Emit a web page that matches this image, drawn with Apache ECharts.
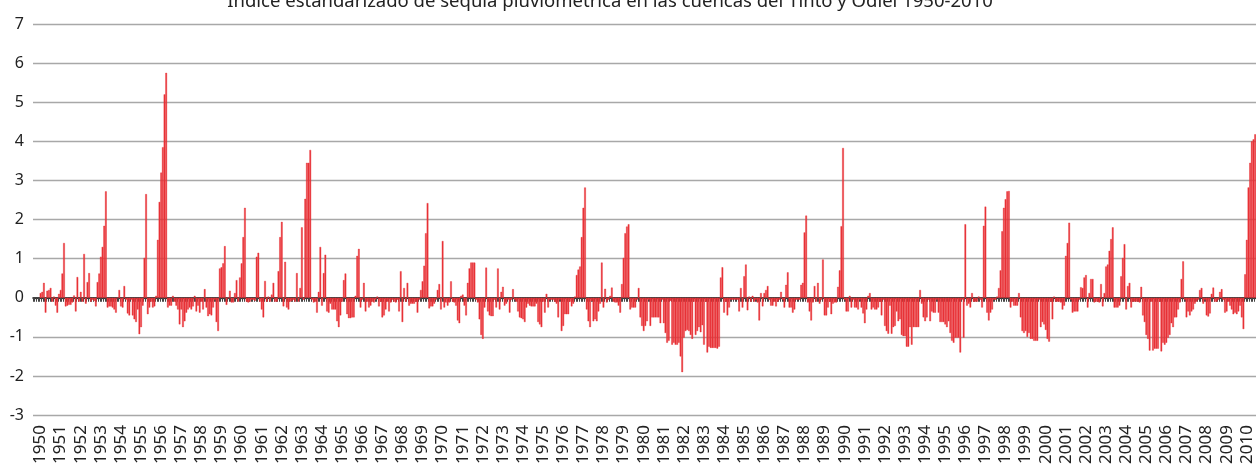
<!DOCTYPE html>
<html>
<head>
<meta charset="utf-8">
<script src="https://cdn.jsdelivr.net/npm/echarts@6/dist/echarts.min.js"></script>
<style>
  html, body { margin: 0; padding: 0; background: #fff; }
  #chart { width: 1256px; height: 467px; }
</style>
</head>
<body>
<div id="chart"></div>
<script>
// indice mensual de sequia, enero 1950 - junio 2010
const firstYear = 1950;
const leadMonths = 4; // huecos vacios antes de 1950 (como en el original)

const spi1950s = [
  0.12, 0.15, 0.38, -0.38, 0.18, 0.2, 0.25, -0.1, 0.03, -0.2, -0.38, 0.1,
  0.2, 0.62, 1.4, -0.22, -0.2, -0.18, -0.18, -0.12, 0.06, -0.35, 0.53, -0.1,
  0.15, -0.1, 1.12, -0.15, 0.4, 0.63, -0.1, -0.05, -0.08, -0.22, 0.4, 0.62,
  1.05, 1.3, 1.84, 2.72, -0.25, -0.22, -0.22, -0.25, -0.3, -0.38, 0.0, 0.2,
  -0.22, -0.25, 0.3, -0.05, -0.4, -0.45, -0.05, -0.45, -0.55, -0.62, -0.3, -0.93,
  -0.75, -0.2, 1.02, 2.65, -0.42, -0.25, -0.1, -0.25, -0.22, 0.05, 1.48, 2.45,
  3.2, 3.85, 5.2, 5.75, -0.25, -0.2, -0.2, 0.05, -0.1, -0.2, -0.3, -0.68,
  -0.3, -0.75, -0.6, -0.38, -0.3, -0.25, -0.3, -0.22, 0.05, -0.35, -0.2, -0.38,
  -0.1, -0.3, 0.22, -0.25, -0.47, -0.42, -0.45, -0.25, -0.05, -0.62, -0.85, 0.75,
  0.78, 0.88, 1.32, -0.18, 0.0, 0.18, -0.12, -0.12, 0.12, 0.45, -0.1, 0.52
];
const spi1960s = [
  0.88, 1.55, 2.3, -0.1, -0.12, -0.1, -0.05, -0.05, -0.08, 1.05, 1.15, -0.1,
  -0.3, -0.5, 0.43, -0.1, 0.03, -0.1, 0.08, 0.38, -0.1, -0.1, 0.68, 1.55,
  1.94, -0.22, 0.92, -0.25, -0.3, -0.1, -0.08, -0.05, -0.1, 0.63, -0.1, 0.25,
  1.8, -0.05, 2.53, 3.45, 3.45, 3.78, -0.05, -0.12, -0.1, -0.38, 0.15, 1.3,
  -0.2, 0.63, 1.1, -0.35, -0.38, -0.15, -0.3, -0.3, -0.3, -0.6, -0.75, -0.45,
  -0.1, 0.45, 0.62, -0.42, -0.52, -0.52, -0.5, -0.5, 0.05, 1.07, 1.25, -0.25,
  -0.05, 0.38, -0.35, -0.1, -0.25, -0.2, -0.1, -0.12, -0.05, 0.03, -0.22, -0.1,
  -0.5, -0.45, -0.3, -0.1, -0.35, -0.12, -0.05, -0.1, -0.12, -0.05, -0.35, 0.68,
  -0.62, 0.25, -0.1, 0.38, -0.2, -0.15, -0.15, -0.15, -0.1, -0.38, -0.05, 0.2,
  0.42, 0.82, 1.65, 2.42, -0.27, -0.22, -0.22, -0.15, -0.05, 0.2, 0.35, -0.3
];
const spi1970s = [
  1.45, -0.25, -0.12, -0.2, -0.12, 0.42, -0.1, -0.12, -0.2, -0.58, -0.65, 0.05,
  0.08, -0.2, -0.45, 0.38, 0.75, 0.9, 0.9, 0.9, -0.05, -0.12, -0.55, -0.95,
  -1.05, -0.25, 0.77, -0.35, -0.45, -0.47, -0.47, -0.05, -0.25, 0.75, -0.3, 0.15,
  0.28, -0.2, -0.15, -0.05, -0.38, -0.05, 0.22, -0.05, -0.1, -0.35, -0.5, -0.52,
  -0.55, -0.62, -0.25, -0.15, -0.2, -0.22, -0.22, -0.22, -0.15, -0.62, -0.68, -0.75,
  -0.1, -0.38, 0.1, -0.25, -0.05, -0.05, -0.05, -0.1, -0.15, -0.5, -0.05, -0.85,
  -0.72, -0.42, -0.42, -0.42, -0.1, -0.22, -0.15, 0.03, 0.58, 0.72, 0.8, 1.55,
  2.3, 2.82, -0.3, -0.6, -0.75, -0.08, -0.6, -0.55, -0.6, -0.35, -0.15, 0.9,
  -0.25, 0.23, -0.12, -0.05, 0.05, 0.26, -0.1, -0.12, -0.12, -0.2, -0.38, 0.35,
  1.02, 1.65, 1.82, 1.88, -0.3, -0.25, -0.25, -0.25, -0.05, 0.25, -0.5, -0.72
];
const spi1980s = [
  -0.85, -0.72, -0.6, -0.05, -0.72, -0.5, -0.5, -0.5, -0.5, -0.5, -0.65, -0.05,
  -0.65, -0.9, -1.15, -1.1, -0.08, -1.2, -1.15, -1.2, -1.2, -1.15, -1.5, -1.9,
  -1.02, -0.85, -0.82, -0.85, -0.95, -1.05, -0.1, -0.95, -0.85, -0.75, -0.88, -0.7,
  -1.2, -0.1, -1.4, -1.25, -1.28, -1.28, -1.28, -1.28, -1.3, -1.25, 0.52, 0.78,
  -0.38, -0.1, -0.45, -0.25, -0.05, -0.05, -0.05, -0.05, -0.05, -0.35, 0.25, -0.25,
  0.55, 0.85, -0.32, 0.03, -0.1, 0.05, -0.1, -0.05, -0.12, -0.58, 0.12, -0.22,
  0.12, 0.2, 0.3, -0.05, -0.2, -0.2, -0.1, -0.22, -0.1, -0.05, 0.15, -0.05,
  -0.25, 0.33, 0.65, -0.25, -0.25, -0.38, -0.3, -0.05, -0.05, -0.05, 0.33, 0.38,
  1.67, 2.1, -0.12, -0.35, -0.58, -0.12, 0.3, -0.1, 0.38, -0.15, -0.05, 0.98,
  -0.45, -0.45, -0.25, -0.1, -0.42, -0.15, -0.12, -0.12, 0.28, 0.7, 1.83, 3.83
];
const spi1990s = [
  -0.05, -0.35, -0.35, 0.05, -0.25, -0.05, -0.25, -0.25, -0.3, -0.05, -0.25, -0.4,
  -0.65, -0.3, 0.05, 0.12, -0.3, -0.25, -0.3, -0.3, -0.25, -0.1, -0.45, -0.05,
  -0.72, -0.85, -0.92, -0.2, -0.92, -0.75, -0.72, -0.35, -0.6, -0.55, -0.95, -0.98,
  -0.98, -1.25, -1.25, -0.75, -1.2, -0.75, -0.75, -0.75, -0.75, 0.2, -0.15, -0.5,
  -0.6, -0.5, -0.05, -0.6, -0.35, -0.38, -0.38, -0.05, -0.38, -0.62, -0.62, -0.62,
  -0.68, -0.75, -0.6, -0.9, -1.1, -1.15, -1.02, -1.02, -1.02, -1.4, -0.05, -1.02,
  1.88, -0.2, -0.15, -0.25, 0.12, -0.1, -0.1, -0.1, 0.03, -0.05, -0.25, 1.84,
  2.33, -0.38, -0.58, -0.38, -0.3, -0.05, -0.05, 0.03, 0.25, 0.7, 1.7, 2.3,
  2.52, 2.72, 2.73, -0.25, -0.1, -0.2, -0.2, -0.2, 0.12, -0.5, -0.85, -0.9,
  -0.85, -1.0, -0.9, -1.05, -1.05, -1.1, -1.1, -1.1, -0.05, -0.75, -0.62, -0.68
];
const spi2000s = [
  -0.82, -1.05, -1.12, -0.1, -0.55, 0.03, -0.1, -0.1, -0.1, -0.12, -0.3, -0.2,
  1.07, 1.4, 1.92, -0.05, -0.38, -0.35, -0.35, -0.35, -0.05, 0.27, 0.25, 0.52,
  0.58, -0.25, 0.12, 0.48, 0.48, -0.12, -0.1, -0.1, -0.12, 0.35, -0.22, 0.12,
  0.8, 0.85, 1.2, 1.5, 1.8, -0.25, -0.25, -0.25, -0.2, 0.55, 1.02, 1.37,
  -0.3, 0.3, 0.38, -0.25, -0.1, -0.1, -0.1, -0.1, -0.12, 0.28, -0.45, -0.62,
  -0.95, -1.05, -1.35, -0.1, -1.35, -1.3, -1.3, -1.3, -0.1, -1.37, -1.15, -1.2,
  -1.15, -1.02, -0.95, -0.65, -0.75, -0.5, -0.5, -0.3, -0.12, 0.48, 0.93, -0.05,
  -0.5, -0.35, -0.45, -0.35, -0.3, -0.15, -0.1, -0.05, 0.2, 0.25, -0.15, -0.05,
  -0.45, -0.48, -0.4, 0.1, 0.26, -0.1, -0.1, -0.05, 0.15, 0.22, -0.05, -0.38,
  -0.35, -0.1, -0.2, -0.3, -0.42, -0.38, -0.42, -0.35, -0.2, -0.5, -0.8, 0.6
];
const spi2010 = [1.48, 2.82, 3.45, 4.0, 4.05, 4.18];

const yTicks = [-3, -2, -1, 0, 1, 2, 3, 4, 5, 6, 7];

// categorias mensuales 'AAAA-MM'
const values = [].concat(spi1950s, spi1960s, spi1970s, spi1980s, spi1990s, spi2000s, spi2010);
const months = [];
const seriesData = [];
for (let i = -leadMonths; i < values.length; i++) {
  const y = firstYear + Math.floor(i / 12);
  const m = ((i % 12) + 12) % 12 + 1;
  months.push(y + '-' + (m < 10 ? '0' + m : m));
  seriesData.push(i < 0 ? null : values[i]);
}

const font = '"Noto Sans", sans-serif';
const barColor = '#e83237';
const myChart = echarts.init(document.getElementById('chart'));

const option = {
  animation: false,
  backgroundColor: '#ffffff',
  title: {
    text: 'Índice estandarizado de sequía pluviométrica en las cuencas del Tinto y Odiel 1950-2010',
    left: 610,
    textAlign: 'center',
    top: -8,
    padding: 0,
    textStyle: { fontFamily: font, fontSize: 18.5, fontWeight: 'normal', color: '#222' }
  },
  grid: { left: 33, right: 0, top: 24, bottom: 51 },
  xAxis: [
    {
      type: 'category',
      data: months,
      position: 'bottom',
      axisLine: { show: false, onZero: false },
      axisTick: { show: false },
      axisLabel: {
        rotate: 90,
        margin: 10,
        fontFamily: font,
        fontSize: 17,
        color: '#222',
        interval: (idx, val) => val.endsWith('-01'),
        formatter: (val) => val.slice(0, 4)
      },
      splitLine: { show: false }
    },
    {
      type: 'category',
      data: months,
      position: 'top',
      axisLine: { show: true, onZero: true, lineStyle: { color: '#111', width: 1.6 } },
      axisTick: { show: true, inside: true, interval: 0, length: 4, lineStyle: { color: '#444', width: 1 } },
      axisLabel: { show: false },
      splitLine: { show: false }
    }
  ],
  yAxis: {
    type: 'value',
    min: -3,
    max: 7,
    interval: 1,
    axisLine: { show: false },
    axisTick: { show: false },
    axisLabel: {
      margin: 9,
      fontFamily: font,
      fontSize: 16,
      color: '#222',
      formatter: (v) => (yTicks.indexOf(v) >= 0 ? String(v) : '')
    },
    splitLine: { show: true, lineStyle: { color: '#a8a8a8', width: 1.3 } }
  },
  series: [
    {
      type: 'bar',
      xAxisIndex: 0,
      data: seriesData,
      barCategoryGap: '0%',
      itemStyle: { color: barColor, borderColor: barColor, borderWidth: 0.4 },
      z: 3
    }
  ]
};
myChart.setOption(option);
</script>
</body>
</html>
